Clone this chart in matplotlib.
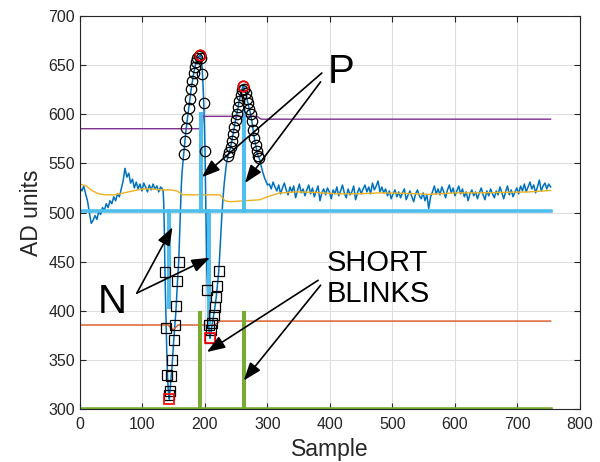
import numpy as np
import matplotlib
matplotlib.use('Agg')
import matplotlib.pyplot as plt

plt.rcParams['font.family'] = ['Liberation Sans', 'DejaVu Sans']

# raw signal, samples 0..132 (every 3rd sample)
sig_start = [525, 522, 527, 519, 512, 500, 489, 492, 497, 493,
             501, 498, 505, 502, 509, 505, 512, 509, 516, 512,
             519, 516, 524, 532, 545, 536, 540, 530, 534, 525,
             531, 524, 529, 522, 530, 526, 521, 528, 523, 529,
             524, 527, 521, 526, 524]

# raw signal, samples 133..300 (every sample, blink region)
sig_blink = [522, 510, 480, 439, 409, 382, 355, 335, 322, 314,
             310, 318, 326, 334, 340, 350, 360, 370, 378, 386,
             395, 405, 418, 430, 440, 450, 468, 488, 508, 525,
             538, 546, 553, 560, 566, 573, 580, 586, 591, 596,
             601, 606, 611, 616, 621, 626, 630, 634, 638, 642,
             645, 648, 651, 653, 655, 657, 658, 659, 659, 660,
             660, 657, 651, 641, 628, 611, 590, 563, 520, 470,
             441, 421, 401, 386, 377, 372, 376, 380, 384, 388,
             392, 396, 400, 404, 409, 414, 420, 425, 433, 440,
             450, 462, 474, 486, 497, 507, 516, 524, 531, 537,
             543, 548, 552, 555, 558, 560, 562, 564, 567, 570,
             573, 577, 580, 584, 587, 591, 594, 597, 600, 604,
             607, 611, 614, 617, 620, 622, 625, 627, 629, 628,
             626, 624, 622, 619, 616, 613, 611, 608, 605, 603,
             600, 597, 593, 589, 584, 580, 576, 572, 569, 566,
             563, 560, 558, 556, 555, 553, 550, 547, 545, 542,
             540, 538, 536, 534, 533, 531, 530, 528]

# raw signal, samples 303..753 (every 3rd sample)
sig_end = [529, 524, 531, 526, 522, 528, 519, 525, 530, 523,
           518, 526, 521, 527, 515, 522, 529, 520, 524, 517,
           523, 528, 519, 525, 516, 522, 527, 512, 520, 524,
           518, 525, 521, 514, 523, 519, 526, 517, 522, 528,
           520, 515, 524, 518, 521, 527, 513, 520, 525, 519,
           524, 528, 521, 526, 519, 530, 523, 527, 532, 521,
           526, 520, 524, 517, 522, 514, 519, 523, 516, 521,
           515, 520, 524, 513, 518, 522, 516, 511, 519, 523,
           517, 514, 520, 512, 518, 504, 516, 521, 527, 519,
           524, 518, 526, 521, 515, 523, 528, 520, 525, 517,
           522, 527, 519, 524, 516, 521, 512, 519, 523, 517,
           521, 514, 520, 525, 518, 513, 522, 517, 524, 519,
           515, 522, 518, 526, 520, 514, 521, 527, 518, 523,
           516, 521, 525, 519, 527, 522, 529, 521, 526, 531,
           524, 528, 520, 526, 533, 522, 527, 530, 524, 529,
           526]

# moving average
avg_x = [0, 10, 20, 30, 40, 55, 70, 85, 100, 115, 130, 145, 155, 160, 165,
         224, 232, 240, 288, 300, 320, 347, 373, 416, 440, 480, 520, 560,
         600, 640, 680, 720, 753]
avg_y = [529, 527, 522, 519, 518, 518, 520, 522, 524, 524, 523, 523, 522,
         520, 518, 518, 512, 511, 513, 516, 520, 521, 520.5, 519, 519, 520,
         519.5, 518.5, 520, 520, 520.5, 521, 522.5]

# thresholds
low_x = [0, 141, 149, 157, 216, 224, 753]
low_y = [385.5, 385.5, 380.5, 385.5, 385.5, 389.5, 389.5]
high_x = [0, 195, 197, 283, 290, 753]
high_y = [585.3, 585.3, 597.9, 597.9, 595, 595]

# detector output
det_x = [0, 143, 143, 143, 193, 193, 193, 207, 207, 207, 262, 262, 262, 753]
det_y = [502, 502, 402, 502, 502, 602, 502, 502, 385, 502, 502, 605, 502, 502]

# short blink flags
blink_x = [0, 192, 192, 192, 262, 262, 262, 753]
blink_y = [300, 300, 400, 300, 300, 400, 300, 300]

x_ticks = [0, 100, 200, 300, 400, 500, 600, 700, 800]
y_ticks = [300, 350, 400, 450, 500, 550, 600, 650, 700]

# build full signal
x_start = np.arange(len(sig_start)) * 3
x_blink = 133 + np.arange(len(sig_blink))
x_end = 303 + np.arange(len(sig_end)) * 3
sx = np.concatenate([x_start, x_blink, x_end])
sy = np.concatenate([sig_start, sig_blink, sig_end]).astype(float)

bx = x_blink
by = np.array(sig_blink, dtype=float)
peak_idx = np.where(by >= 555)[0][::2]
trough_idx = np.where(by <= 450)[0][::2]

fig = plt.figure(figsize=(6, 4.62), dpi=100)
ax = fig.add_axes([0.1333, 0.1147, 0.8333, 0.8506])

ax.plot(sx, sy, color='#0072BD', lw=1.1)
ax.plot(avg_x, avg_y, color='#EDB120', lw=1.0)
ax.plot(low_x, low_y, color='#D95319', lw=1.0)
ax.plot(high_x, high_y, color='#7E2F8E', lw=1.0)
ax.plot(det_x, det_y, color='#4DBEEE', lw=2.6, solid_joinstyle='miter')
ax.plot(blink_x, blink_y, color='#77AC30', lw=2.6, solid_joinstyle='miter')

ax.plot(bx[peak_idx], by[peak_idx], 'o', ms=7.5, mfc='none', mec='k', mew=0.9)
ax.plot(bx[trough_idx], by[trough_idx], 's', ms=6.5, mfc='none', mec='k', mew=0.9)

# extreme points of every event
for lo, hi in [(133, 230), (230, 301)]:
    m = (bx >= lo) & (bx < hi)
    i = np.argmax(np.where(m, by, -np.inf))
    ax.plot(bx[i], by[i], 'o', ms=7.5, mfc='none', mec='r', mew=1.2)
for lo, hi in [(133, 180), (180, 240)]:
    m = (bx >= lo) & (bx < hi)
    i = np.argmin(np.where(m, by, np.inf))
    ax.plot(bx[i], by[i], 's', ms=6.5, mfc='none', mec='r', mew=1.2)

arrow = dict(arrowstyle='-|>,head_length=1.1,head_width=0.4', color='k',
             lw=1.2, shrinkA=0, shrinkB=0, mutation_scale=10)
ax.text(397, 632, 'P', fontsize=29, ha='left', va='baseline')
ax.annotate('', xy=(195, 536), xytext=(387, 642), arrowprops=arrow)
ax.annotate('', xy=(264, 530), xytext=(385, 633), arrowprops=arrow)

ax.text(29, 398, 'N', fontsize=29, ha='left', va='baseline')
ax.annotate('', xy=(148, 485), xytext=(91, 418), arrowprops=arrow)
ax.annotate('', xy=(208, 454), xytext=(91, 418), arrowprops=arrow)

ax.text(395, 409, 'SHORT\nBLINKS', fontsize=21, ha='left', va='baseline',
        linespacing=1.15)
ax.annotate('', xy=(203, 358), xytext=(381, 431), arrowprops=arrow)
ax.annotate('', xy=(262, 329), xytext=(385, 426), arrowprops=arrow)

ax.set_xlim(0, 800)
ax.set_ylim(300, 700)
ax.set_xticks(x_ticks)
ax.set_yticks(y_ticks)
ax.grid(True, color='#dedede', lw=0.8)
ax.set_axisbelow(True)
ax.tick_params(direction='in', top=True, right=True, length=4, width=0.8,
               labelsize=11.5, colors='#262626')
ax.tick_params(axis='x', pad=6)
for s in ax.spines.values():
    s.set_color('#262626')
    s.set_linewidth(0.8)
ax.set_xlabel('Sample', fontsize=16.5, color='#262626', labelpad=4)
ax.set_ylabel('AD units', fontsize=16.5, color='#262626', labelpad=4)

fig.savefig('out.png', dpi=100)
